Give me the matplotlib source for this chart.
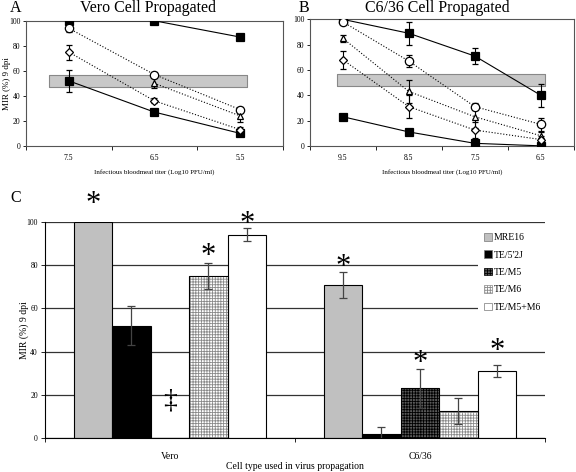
import numpy as np
import matplotlib.pyplot as plt
from matplotlib.patches import Patch

plt.rcParams['font.family'] = ['Liberation Serif', 'DejaVu Serif']
plt.rcParams['hatch.linewidth'] = 0.6

# panel A - Vero propagated virus
vero_titers = ['7.5', '6.5', '5.5']
vero_mre16 = [100, 100, 87]
vero_mre16_err = [0, 0, 0]
vero_te52j = [52, 27, 10]
vero_te52j_err = [9, 2, 2]
vero_tem5 = [np.nan, 50, 24]
vero_tem5_err = [0, 4, 5]
vero_tem6 = [75, 36, 13]
vero_tem6_err = [6, 2, 2]
vero_tem5m6 = [94, 57, 29]
vero_tem5m6_err = [3, 2, 2]

# panel B - C6/36 propagated virus
c636_titers = ['9.5', '8.5', '7.5', '6.5']
c636_mre16 = [100, 89, 71, 40]
c636_mre16_err = [0, 9, 6, 9]
c636_te52j = [23, 11, 2, 0]
c636_te52j_err = [2, 2, 3, 0]
c636_tem5 = [85, 43, 23, 8]
c636_tem5_err = [3, 9, 9, 3]
c636_tem6 = [68, 31, 12.5, 5]
c636_tem6_err = [7, 9, 6, 3]
c636_tem5m6 = [98, 67, 31, 17]
c636_tem5m6_err = [2, 5, 3, 5]

# panel C - bar chart
cell_types = ['Vero', 'C6/36']
strains = ['MRE16', "TE/5'2J", 'TE/M5', 'TE/M6', 'TE/M5+M6']
mre16_bar = [100, 71]
mre16_bar_err = [0, 6]
te52j_bar = [52, 2]
te52j_bar_err = [9, 3]
tem5_bar = [0, 23]
tem5_bar_err = [0, 9]
tem6_bar = [75, 12.5]
tem6_bar_err = [6, 6]
tem5m6_bar = [94, 31]
tem5m6_bar_err = [3, 3]
star_y = [[108, None, None, 84, 99], [79, None, 34.5, None, 40]]

fig = plt.figure(figsize=(5.76, 4.72), dpi=100)
axA = fig.add_axes([0.045, 0.691, 0.446, 0.265])
axB = fig.add_axes([0.538, 0.691, 0.458, 0.268])
axC = fig.add_axes([0.078, 0.072, 0.868, 0.458])


def line_panel(ax, titers, series, band):
    x = np.arange(len(titers)) + 0.5
    ax.fill_between(band, 47, 57, facecolor='#c8c8c8', edgecolor='#888888', lw=0.8, zorder=1)
    for vals, errs, marker, ms, face, ls in series:
        ax.errorbar(x, vals, yerr=errs, color='black', ls=ls, lw=0.8, marker=marker, ms=ms,
                    mfc=face, mec='black', mew=0.9, capsize=2.5, elinewidth=0.8, zorder=3)
    ax.set_xlim(0, len(titers))
    ax.set_ylim(0, 100)
    ax.set_yticks(range(0, 101, 20))
    ax.set_xticks(np.arange(len(titers) + 1))
    ax.set_xticklabels([])
    ax.set_xticks(x, minor=True)
    ax.set_xticklabels(titers, minor=True)
    ax.tick_params(axis='x', which='minor', length=0, labelsize=5.5, pad=6)
    ax.tick_params(axis='x', which='major', length=3, width=0.6)
    ax.tick_params(axis='y', labelsize=5.5, length=2, width=0.6, pad=2)
    for s in ax.spines.values():
        s.set_color('#555555')
        s.set_linewidth(0.8)
    ax.set_xlabel('Infectious bloodmeal titer (Log10 PFU/ml)', fontsize=5, labelpad=5)


line_panel(axA, vero_titers, [
    (vero_mre16, vero_mre16_err, 's', 5.5, 'black', '-'),
    (vero_te52j, vero_te52j_err, 's', 5.5, 'black', '-'),
    (vero_tem5m6, vero_tem5m6_err, 'o', 6, 'white', ':'),
    (vero_tem5, vero_tem5_err, '^', 5, 'white', ':'),
    (vero_tem6, vero_tem6_err, 'D', 4, 'white', ':'),
], [0.27, 2.58])
axA.set_ylabel('MIR (%) 9 dpi', fontsize=6.5)
axA.yaxis.set_label_coords(-0.06, 0.5)

line_panel(axB, c636_titers, [
    (c636_mre16, c636_mre16_err, 's', 5.5, 'black', '-'),
    (c636_te52j, c636_te52j_err, 's', 5.5, 'black', '-'),
    (c636_tem5m6, c636_tem5m6_err, 'o', 6, 'white', ':'),
    (c636_tem5, c636_tem5_err, '^', 5, 'white', ':'),
    (c636_tem6, c636_tem6_err, 'D', 4, 'white', ':'),
], [0.41, 3.56])

fig.text(16 / 576, 1 - 8 / 472, 'A', fontsize=11.5, ha='center', va='center')
fig.text(148 / 576, 1 - 8 / 472, 'Vero Cell Propagated', fontsize=11.5, ha='center', va='center')
fig.text(304 / 576, 1 - 8 / 472, 'B', fontsize=11.5, ha='center', va='center')
fig.text(437 / 576, 1 - 8 / 472, 'C6/36 Cell Propagated', fontsize=11.5, ha='center', va='center')
fig.text(16 / 576, 1 - 198 / 472, 'C', fontsize=11.5, ha='center', va='center')

# bar chart
xc = np.arange(len(cell_types))
width = 0.154
bar_data = [(mre16_bar, mre16_bar_err), (te52j_bar, te52j_bar_err), (tem5_bar, tem5_bar_err),
            (tem6_bar, tem6_bar_err), (tem5m6_bar, tem5m6_bar_err)]
styles = [('#c0c0c0', None, 'black'), ('black', None, 'black'), ('#5a5a5a', '++++++', 'black'),
          ('white', '++++++', '#8a8a8a'), ('white', None, 'black')]
handles = []
for i, ((vals, errs), (face, hatch, hc)) in enumerate(zip(bar_data, styles)):
    pos = xc + (i - 2) * width
    axC.bar(pos, vals, width, color=face, hatch=hatch, edgecolor=hc, lw=0, zorder=2)
    axC.bar(pos, vals, width, fill=False, edgecolor='black', lw=0.8, zorder=3)
    errs_drawn = [e if e > 0 else np.nan for e in errs]
    axC.errorbar(pos, vals, yerr=errs_drawn, fmt='none', ecolor='#444444', elinewidth=0.9,
                 capsize=3, capthick=0.9, zorder=4)
    handles.append(Patch(facecolor=face, hatch=hatch, edgecolor=hc if hatch else '#777777', lw=0.5))
    for g in range(len(cell_types)):
        if star_y[g][i] is not None:
            axC.text(pos[g], star_y[g][i], '*', fontsize=22, ha='center', va='center',
                     clip_on=False, zorder=5)

axC.text(xc[0], 17, '\u2021', fontsize=20, ha='center', va='center', zorder=5)

axC.set_xlim(-0.5, 1.5)
axC.set_ylim(0, 100)
axC.set_yticks(range(0, 101, 20))
axC.yaxis.grid(True, color='#333333', lw=0.9)
axC.set_axisbelow(True)
axC.set_xticks([-0.5, 0.5, 1.5])
axC.set_xticklabels([])
axC.set_xticks(xc, minor=True)
axC.set_xticklabels(cell_types, minor=True)
axC.tick_params(axis='x', which='minor', length=0, labelsize=7, pad=10)
axC.tick_params(axis='x', which='major', length=3, width=0.6)
axC.tick_params(axis='y', labelsize=5.5, length=3, width=0.6, pad=2)
for side in ['top', 'right']:
    axC.spines[side].set_visible(False)
axC.spines['left'].set_linewidth(0.8)
axC.spines['bottom'].set_linewidth(0.8)
axC.set_ylabel('MIR (%) 9 dpi', fontsize=7)
axC.yaxis.set_label_coords(-0.032, 0.5)
axC.set_xlabel('Cell type used in virus propagation', fontsize=7, labelpad=1)

leg = axC.legend(handles, strains, loc='upper left', bbox_to_anchor=(0.866, 0.975), fontsize=7,
                 frameon=True, facecolor='white', edgecolor='none', framealpha=1, fancybox=False,
                 handlelength=0.8, handleheight=0.8, handletextpad=0.2, labelspacing=0.85,
                 borderpad=0.6, borderaxespad=0)
leg.set_zorder(6)

fig.savefig('out.png', dpi=100)
